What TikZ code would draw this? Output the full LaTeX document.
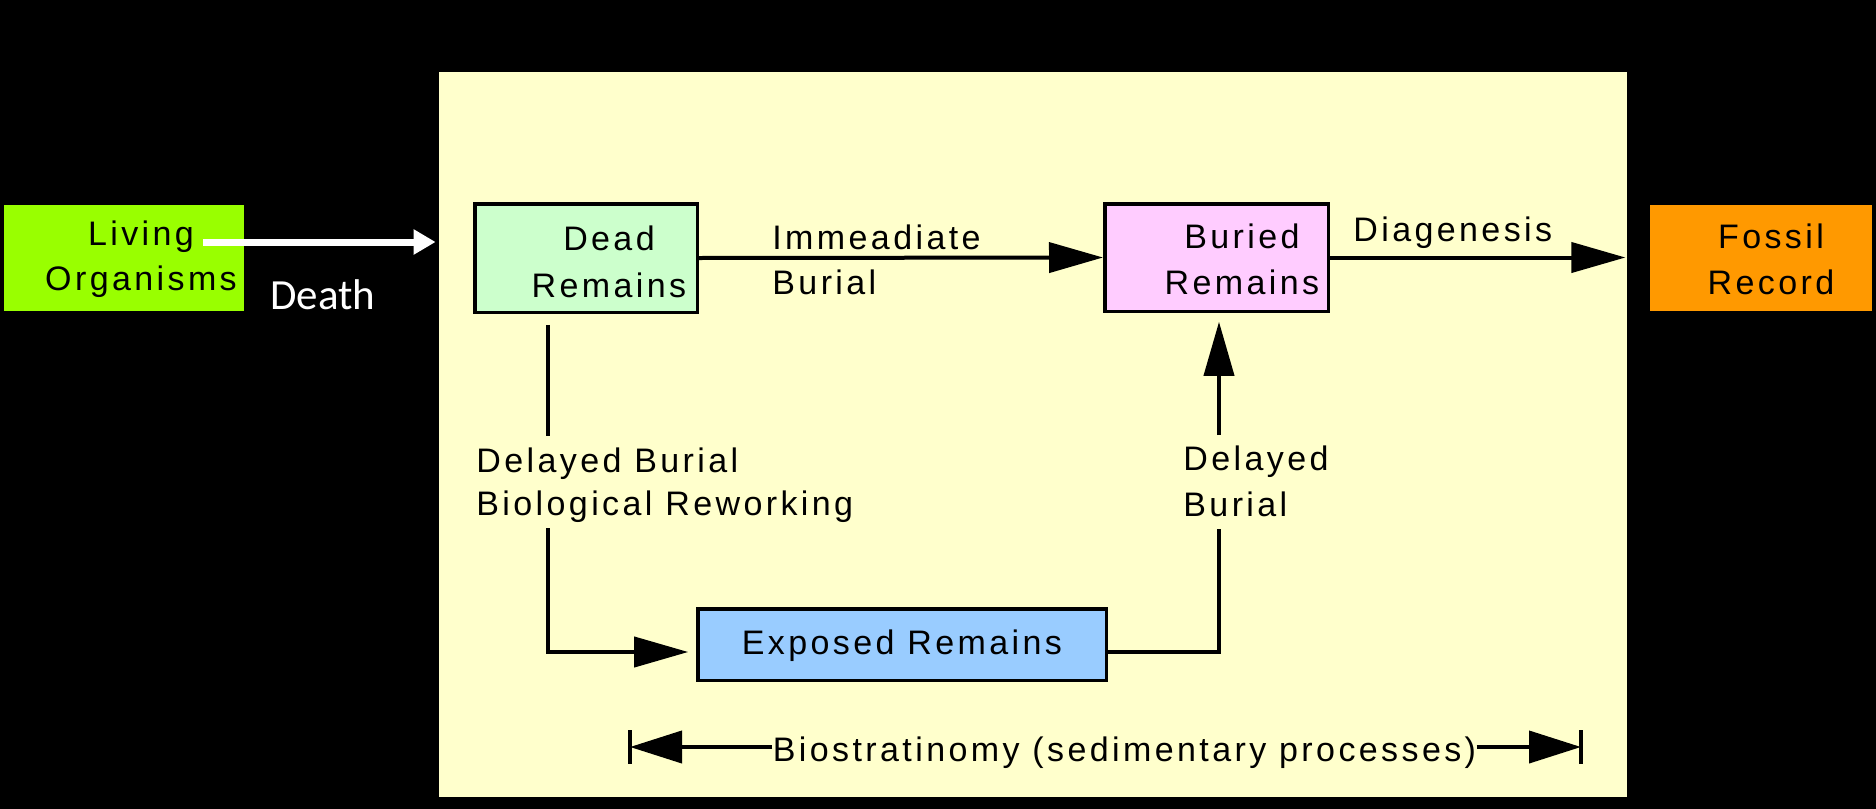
\documentclass[tikz,border=0pt]{standalone}
\usepackage{fontspec}
\setmainfont{Liberation Sans}[LetterSpace=10]
\newfontfamily\deathfont{Carlito}
\usetikzlibrary{arrows.meta}
\definecolor{panelbg}{HTML}{FFFFCC}
\definecolor{livegreen}{HTML}{99FF00}
\definecolor{deadgreen}{HTML}{CCFFCC}
\definecolor{buriedpink}{HTML}{FFCCFF}
\definecolor{fossilorange}{HTML}{FF9900}
\definecolor{exposedblue}{HTML}{99CCFF}
\begin{document}
\begin{tikzpicture}[x=0.5pt,y=-0.5pt,
  box/.style={draw=black, line width=1.75pt, inner sep=0pt, rectangle},
  flat/.style={inner sep=0pt, rectangle},
  txt/.style={font=\fontsize{17pt}{23pt}\selectfont, inner sep=0pt, anchor=base},
  ltxt/.style={txt, anchor=base west},
  conn/.style={line width=2pt},
  arrowed/.style={-{Triangle[length=27pt,width=15pt]}},
]
\fill[black] (0,0) rectangle (1876,809);
\useasboundingbox (0,0) rectangle (1876,809);

% panel and boxes
\node[flat, fill=panelbg, minimum width=594pt, minimum height=362.5pt] (panel) at (1033,434.5) {};
\node[flat, fill=livegreen, minimum width=120pt, minimum height=53pt] (living) at (124,258) {};
\node[box, fill=deadgreen, minimum width=111.25pt, minimum height=54.25pt] (dead) at (586,258) {};
\node[box, fill=buriedpink, minimum width=111.75pt, minimum height=53.75pt] (buried) at (1216.5,257.5) {};
\node[flat, fill=fossilorange, minimum width=111pt, minimum height=53pt] (fossil) at (1761,258) {};
\node[box, fill=exposedblue, minimum width=204.25pt, minimum height=35.75pt] (exposed) at (902,644.5) {};

% box texts
\node[txt] (liv1) at (141,245) {Living};
\node[txt] (liv2) at (141,290) {Organisms};
\node[txt] (dead1) at (609,250) {Dead};
\node[txt] (dead2) at (609,297) {Remains};
\node[txt] (bur1) at (1242,248) {Buried};
\node[txt] (bur2) at (1242,294) {Remains};
\node[txt] (fos1) at (1771,248) {Fossil};
\node[txt] (fos2) at (1771,294) {Record};
\node[txt] (exptxt) at (902,654) {Exposed Remains};

% connector labels
\node[ltxt] (imm1) at (772,249) {Immeadiate};
\node[ltxt] (imm2) at (772,294) {Burial};
\node[ltxt] (diag) at (1353,241) {Diagenesis};
\node[ltxt] (del1) at (476,472) {Delayed Burial};
\node[ltxt] (del2) at (476,515) {Biological Reworking};
\node[ltxt] (rdel1) at (1183,470) {Delayed};
\node[ltxt] (rdel2) at (1183,516) {Burial};
\node[txt] (bio) at (1124.5,761) {Biostratinomy (sedimentary processes)};
\node[inner sep=0pt, anchor=base west, text=white, font=\deathfont\fontsize{21.5pt}{25pt}\selectfont] (death) at (270,309) {Death};

% death arrow
\coordinate (ds) at (203,242);
\draw[white, line width=3.5pt, -{Triangle[length=11pt,width=12pt]}, shorten >=1.5pt] (ds) -- (ds -| panel.west);

% main connectors
\draw[conn, arrowed] (dead.east) -- (buried.west);
\draw[conn, arrowed, shorten >=1pt] (buried.east) -- (buried.east -| panel.east);

% left path
\coordinate (lg1) at (548,436);
\coordinate (lg2) at (548,528);
\draw[conn, shorten <=5.4pt] (dead.south -| lg1) -- (lg1);
\draw[conn, arrowed, shorten >=3.9pt] (lg2) |- ([yshift=-3.75pt]exposed.west);

% right path
\coordinate (rg1) at (1219,529);
\coordinate (rg2) at (1219,435);
\draw[conn] ([yshift=-3.75pt]exposed.east) -| (rg1);
\draw[conn, arrowed, shorten >=4.4pt] (rg2) -- (rg2 |- buried.south);

% biostratinomy span
\coordinate (bl) at (630,747);
\coordinate (br) at (1581,747);
\draw[conn, -{Triangle[length=26pt,width=16pt]}] (bl -| bio.west) -- (bl);
\draw[conn, -{Triangle[length=26pt,width=16pt]}] (br -| bio.east) -- (br);
\draw[conn] ([yshift=8.5pt]bl) -- ([yshift=-8.5pt]bl);
\draw[conn] ([yshift=8.5pt]br) -- ([yshift=-8.5pt]br);
\end{tikzpicture}
\end{document}
